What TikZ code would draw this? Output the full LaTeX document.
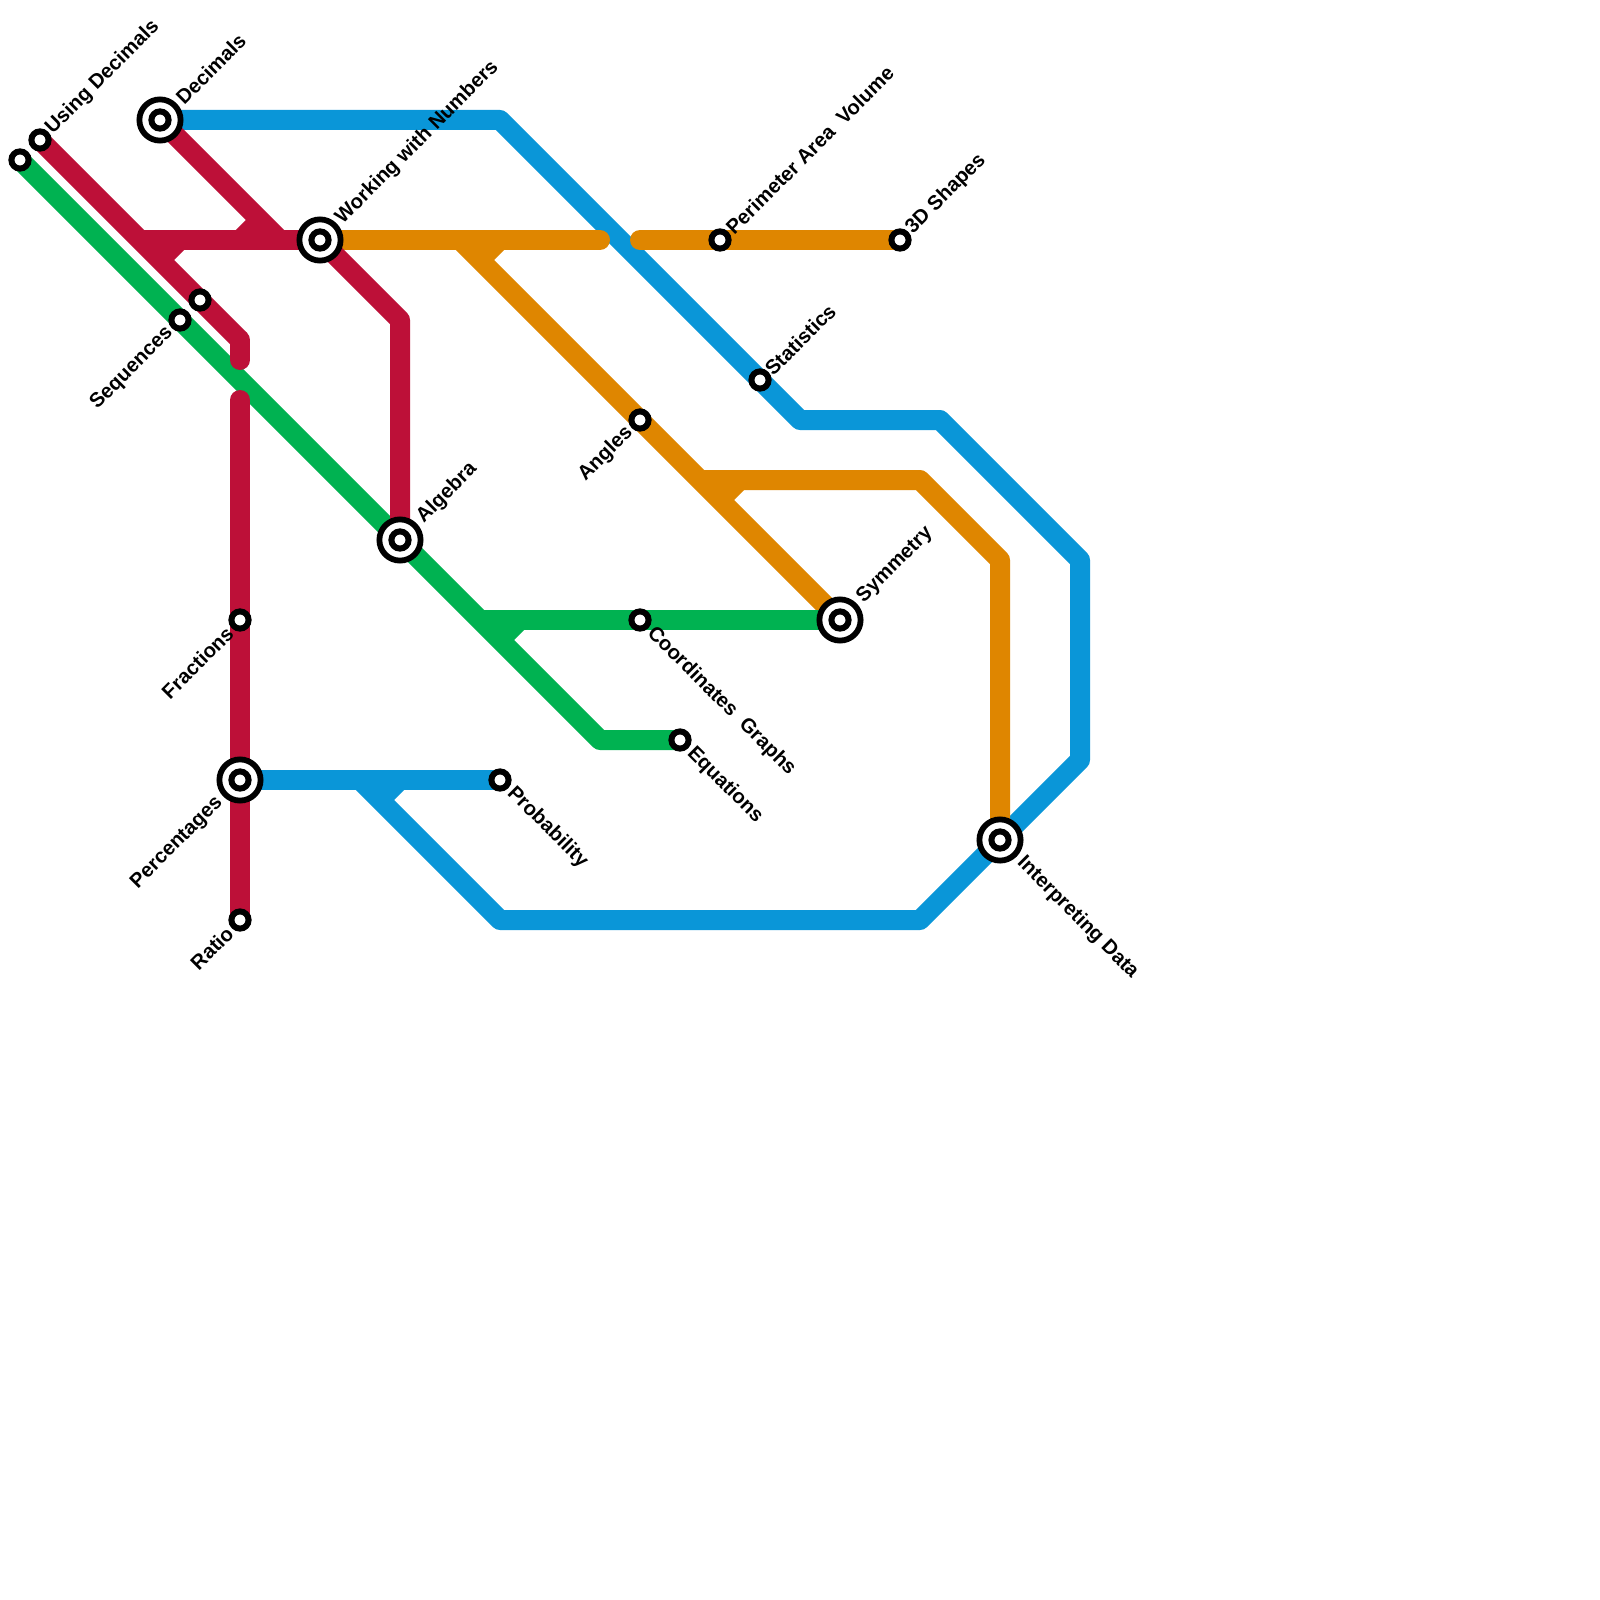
\documentclass[tikz,border=0pt]{standalone}
\usepackage{fontspec}
\setmainfont{Liberation Sans}
\usetikzlibrary{backgrounds}
\definecolor{lred}{HTML}{BD1038}
\definecolor{lgreen}{HTML}{00B251}
\definecolor{lblue}{HTML}{0A96D8}
\definecolor{lorange}{HTML}{DF8600}
\tikzset{
  x=0.5pt,y=-0.5pt,
  route/.style={line width=10pt,line join=round},
  stub/.style={line width=10pt,line cap=butt},
  stn/.style={circle,draw=black,fill=white,line width=3pt,inner sep=0pt,minimum size=8.6pt},
  hub/.style={circle,draw=black,fill=white,line width=2.9pt,inner sep=0pt,minimum size=20.6pt},
  lab/.style={font=\bfseries\fontsize{10.15pt}{12pt}\selectfont,inner sep=0pt,text=black},
  lne/.style={lab,rotate=45,anchor=west},
  lsw/.style={lab,rotate=45,anchor=east},
  lse/.style={lab,rotate=-45,anchor=west},
}
\begin{document}
\begin{tikzpicture}
\useasboundingbox (0,0) rectangle (1600,1600);
% stations
\node[hub] (decimals) at (160,120) {};
\node[stn] (decimalsc) at (160,120) {};
\node[hub] (working) at (320,240) {};
\node[stn] (workingc) at (320,240) {};
\node[hub] (algebra) at (400,540) {};
\node[stn] (algebrac) at (400,540) {};
\node[hub] (percent) at (240,780) {};
\node[stn] (percentc) at (240,780) {};
\node[hub] (symmetry) at (840,620) {};
\node[stn] (symmetryc) at (840,620) {};
\node[hub] (interp) at (1000,840) {};
\node[stn] (interpc) at (1000,840) {};
\node[stn] (gstart) at (20,160) {};
\node[stn] (using) at (40,140) {};
\node[stn] (seq) at (180,320) {};
\node[stn] (redmid) at (200,300) {};
\node[stn] (frac) at (240,620) {};
\node[stn] (ratio) at (240,920) {};
\node[stn] (prob) at (500,780) {};
\node[stn] (equ) at (680,740) {};
\node[stn] (coord) at (640,620) {};
\node[stn] (angles) at (640,420) {};
\node[stn] (stats) at (760,380) {};
\node[stn] (perim) at (720,240) {};
\node[stn] (threed) at (900,240) {};
% way points
\foreach \n/\p in {
 ra/{140,240}, rb/{240,340}, rc/{240,360}, rd/{280,240}, re/{400,320}, rf/{240,400},
 rs1/{160,260}, rs2/{180,240}, rs3/{240,240}, rs4/{260,220},
 ga/{480,620}, gb/{600,740}, gs1/{500,640}, gs2/{520,620},
 oa/{340,240}, ob/{600,240}, oc/{640,240}, od/{460,240}, oe/{700,480}, of/{920,480}, og/{1000,560},
 os1/{480,260}, os2/{500,240}, os3/{720,500}, os4/{740,480},
 ba/{500,120}, bb/{800,420}, bc/{940,420}, bd/{1080,560}, be/{1080,760}, bf/{920,920}, bg/{500,920}, bh/{360,780},
 bs1/{380,800}, bs2/{400,780}}
 {\coordinate (\n) at (\p);}
\begin{scope}[on background layer]
\fill[white] (0,0) rectangle (1600,1600);
% blue
\draw[route,lblue] (decimals.center) -- (ba) -- (bb) -- (bc) -- (bd) -- (be) -- (bf) -- (bg) -- (bh);
\draw[route,lblue] (percent.center) -- (prob.center);
\draw[stub,lblue] (bs1) -- (bs2);
% orange
\draw[route,lorange,line cap=round] (oa) -- (ob);
\draw[route,lorange,line cap=round] (oc) -- (threed.center);
\draw[route,lorange] (od) -- (symmetry.center);
\draw[route,lorange] (oe) -- (of) -- (og) -- (interp.center);
\draw[stub,lorange] (os1) -- (os2);
\draw[stub,lorange] (os3) -- (os4);
% green
\draw[route,lgreen] (gstart.center) -- (gb) -- (equ.center);
\draw[route,lgreen] (ga) -- (symmetry.center);
\draw[stub,lgreen] (gs1) -- (gs2);
% red
\draw[route,lred] (using.center) -- (rb);
\draw[route,lred,line cap=round] (rb) -- (rc);
\draw[route,lred] (ra) -- (working.center);
\draw[route,lred] (decimals.center) -- (rd);
\draw[route,lred] (working.center) -- (re) -- (algebra.center);
\draw[route,lred,line cap=round] (rf) -- (ratio.center);
\draw[stub,lred] (rs1) -- (rs2);
\draw[stub,lred] (rs3) -- (rs4);
\end{scope}
% labels
\node[lne] (l1) at (49,131) {Using Decimals};
\node[lne] (l2) at (179,101) {Decimals};
\node[lne] (l3) at (339,221) {Working with Numbers};
\node[lne] (l4) at (420,520) {Algebra};
\node[lne] (l5) at (729,231) {Perimeter Area \ Volume};
\node[lne] (l6) at (909,231) {3D Shapes};
\node[lne] (l7) at (768,372) {Statistics};
\node[lne] (l8) at (860,600) {Symmetry};
\node[lsw] (l9) at (170,330) {Sequences};
\node[lsw] (l10) at (630,430) {Angles};
\node[lsw] (l11) at (230,630) {Fractions};
\node[lsw] (l12) at (220,800) {Percentages};
\node[lsw] (l13) at (230,930) {Ratio};
\node[lse] (l14) at (650,630) {Coordinates \ Graphs};
\node[lse] (l15) at (690,750) {Equations};
\node[lse] (l16) at (510,790) {Probability};
\node[lse] (l17) at (1020,860) {Interpreting Data};
\end{tikzpicture}
\end{document}
